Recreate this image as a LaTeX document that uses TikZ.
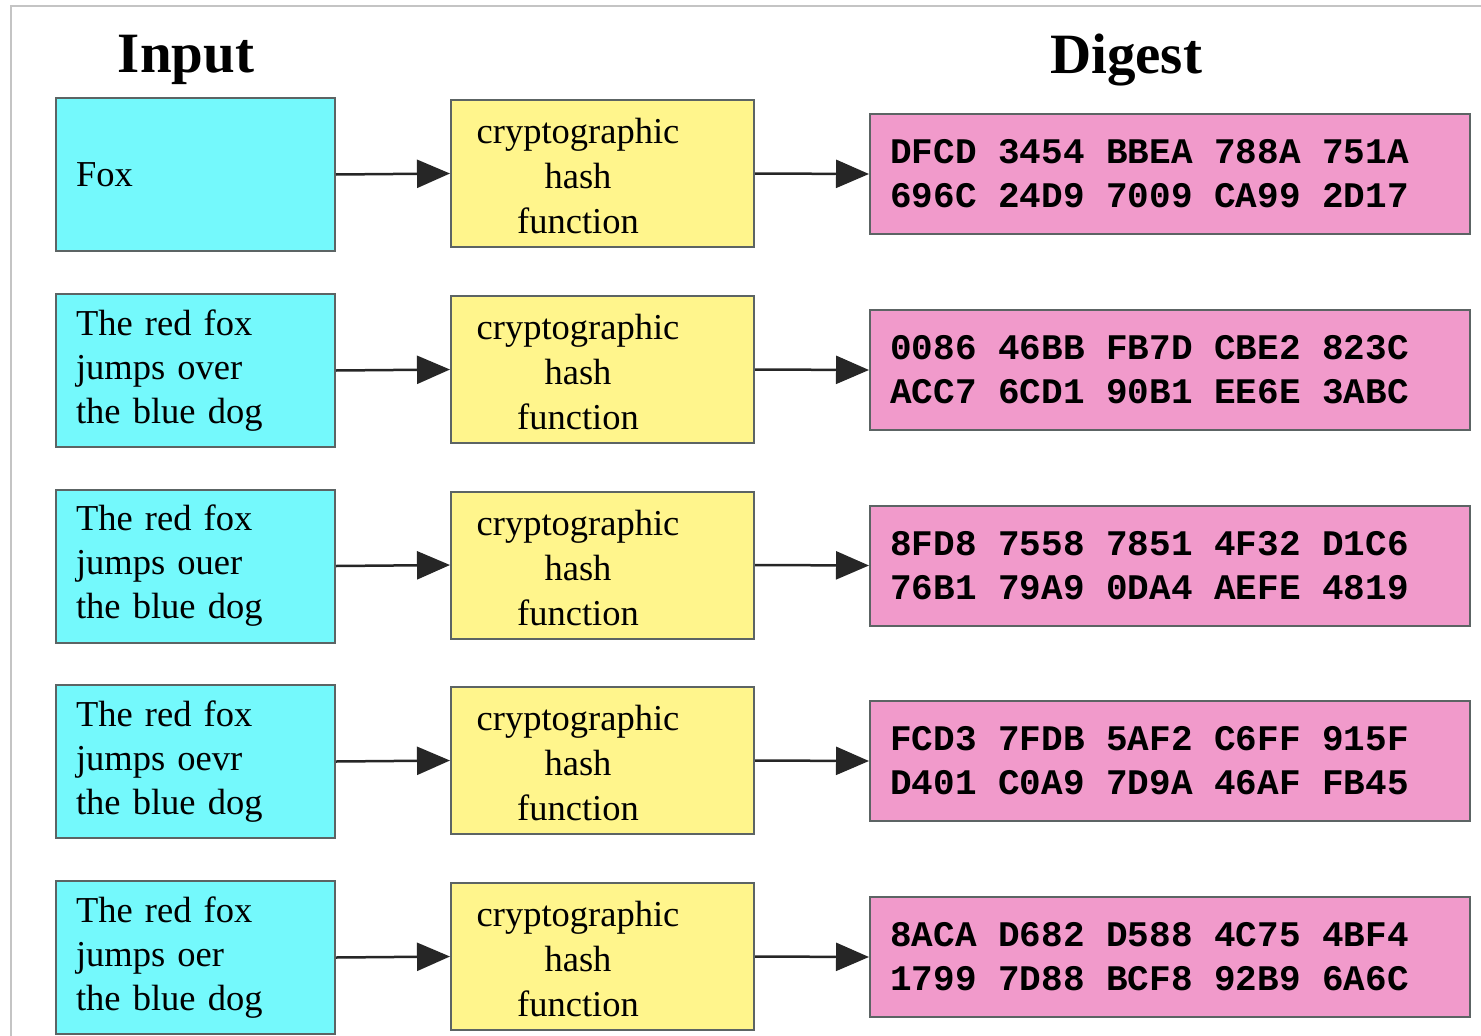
\documentclass[tikz,border=0pt]{standalone}
\usepackage{fontspec}
\setmainfont{Liberation Serif}
\newfontfamily\digestfont{Liberation Mono}
\usetikzlibrary{arrows.meta}

\definecolor{inputfill}{HTML}{74F9FC}
\definecolor{hashfill}{HTML}{FFF58C}
\definecolor{digestfill}{HTML}{F19ACB}
\definecolor{boxline}{HTML}{5C6464}
\definecolor{framegray}{HTML}{C4C4C4}

\tikzset{
  boxbase/.style={draw=boxline, line width=2pt, inner sep=0pt},
  inputbox/.style={boxbase, fill=inputfill, minimum width=279pt, minimum height=153pt,
    text width=239pt, align=left, font=\fontsize{36.5}{44}\selectfont},
  hashbox/.style={boxbase, fill=hashfill, minimum width=303pt, minimum height=147pt},
  hashtext/.style={align=center, inner sep=0pt, font=\fontsize{36.5}{45}\selectfont},
  digestbox/.style={boxbase, fill=digestfill, minimum width=600pt, minimum height=120pt},
  digesttext/.style={anchor=west, align=left, inner sep=0pt,
    font=\digestfont\bfseries\fontsize{36}{44}\selectfont},
  title/.style={font=\bfseries\fontsize{57}{60}\selectfont},
  flow/.style={draw=black!85, line width=2.5pt, -{Triangle[length=33pt, width=28pt]}},
}

\begin{document}
\begin{tikzpicture}[x=1pt, y=-1pt]
  \useasboundingbox (0,0) rectangle (1481,1036);
  % light frame along the top and left edges
  \draw[framegray, line width=1.5pt] (11,1036) -- (11,6) -- (1481,6);

  \node[title] (tin) at (186,60) {Input};
  \node[title] (tdig) at (1126,60) {Digest};

  \foreach \r/\y/\txt/\dA/\dB in {
    1/172.5/{Fox}/{DFCD 3454 BBEA 788A 751A}/{696C 24D9 7009 CA99 2D17},
    2/368.5/{The red fox\\jumps over\\the blue dog}/{0086 46BB FB7D CBE2 823C}/{ACC7 6CD1 90B1 EE6E 3ABC},
    3/564/{The red fox\\jumps ouer\\the blue dog}/{8FD8 7558 7851 4F32 D1C6}/{76B1 79A9 0DA4 AEFE 4819},
    4/759.5/{The red fox\\jumps oevr\\the blue dog}/{FCD3 7FDB 5AF2 C6FF 915F}/{D401 C0A9 7D9A 46AF FB45},
    5/955.5/{The red fox\\jumps oer\\the blue dog}/{8ACA D682 D588 4C75 4BF4}/{1799 7D88 BCF8 92B9 6A6C}} {
    \node[inputbox] (in\r) at (195.5,\y+2) {\txt};
    \node[hashbox] (hash\r) at (602.5,\y+1) {};
    \node[hashtext] (hl\r) at (578,\y+4) {cryptographic\\hash\\function};
    \node[digestbox] (dig\r) at (1170,\y+1.5) {};
    \node[digesttext] (dt\r) at ([xshift=21pt]dig\r.west) {\dA\\\dB};
    \draw[flow] (in\r.east) -- (hash\r.west);
    \draw[flow] (hash\r.east) -- (dig\r.west);
  }
\end{tikzpicture}
\end{document}
